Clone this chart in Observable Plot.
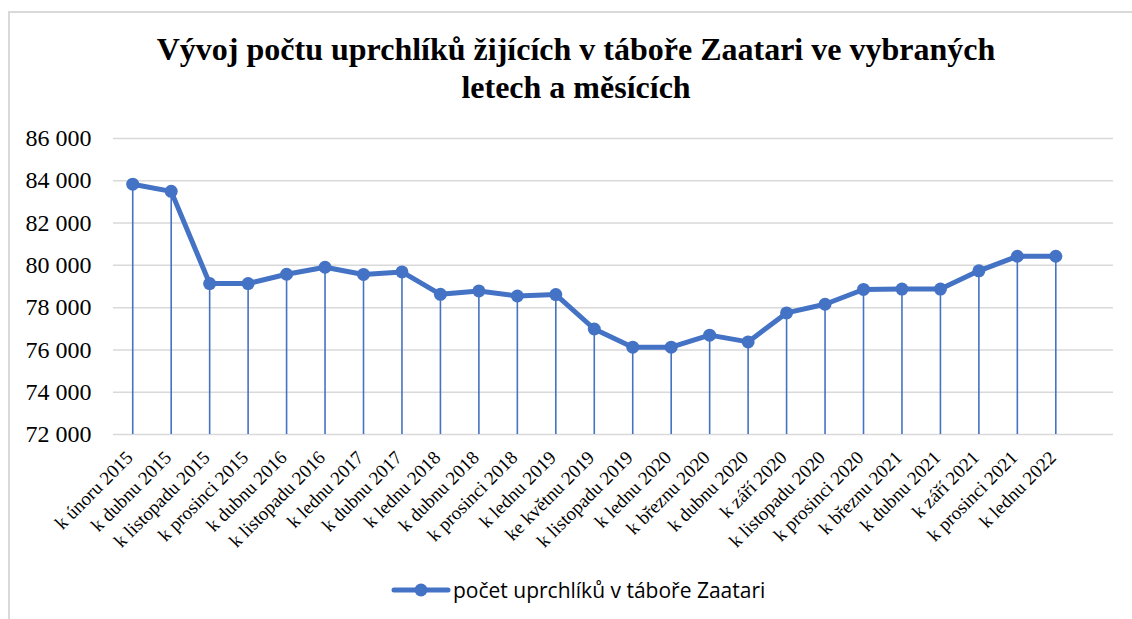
<!DOCTYPE html>
<html>
<head>
<meta charset="utf-8">
<script src="https://cdn.jsdelivr.net/npm/d3@7"></script>
<script src="https://cdn.jsdelivr.net/npm/@observablehq/plot@0.6"></script>
<style>
  html, body { margin: 0; padding: 0; background: #fff; }
  #wrap { position: relative; width: 1132px; height: 619px; overflow: hidden; background: #fff; }
  #frame { position: absolute; left: 8px; top: 11px; width: 1200px; height: 700px; border-left: 2px solid #d9d9d9; border-top: 2px solid #d9d9d9; box-sizing: border-box; }
  #title { position: absolute; left: 0; width: 1152px; top: 30px; text-align: center; font-family: "Liberation Serif", "Times New Roman", serif; font-weight: bold; font-size: 32px; line-height: 38px; color: #000; }
  #chart { position: absolute; left: 0; top: 0; }
  #legend { position: absolute; left: 391px; top: 576px; display: flex; align-items: center; font-family: "Open Sans", "Noto Sans", sans-serif; font-size: 21px; color: #000; white-space: nowrap; }
  #legend svg { margin-right: 2px; }
  #chart svg text { font-family: "Liberation Serif", "Times New Roman", serif; }
</style>
</head>
<body>
<div id="wrap">
  <div id="frame"></div>
  <div id="title">Vývoj počtu uprchlíků žijících v táboře Zaatari ve vybraných<br>letech a měsících</div>
  <div id="chart"></div>
  <div id="legend"></div>
</div>
<script>
const categories = ["k únoru 2015","k dubnu 2015","k listopadu 2015","k prosinci 2015","k dubnu 2016","k listopadu 2016","k lednu 2017","k dubnu 2017","k lednu 2018","k dubnu 2018","k prosinci 2018","k lednu 2019","ke květnu 2019","k listopadu 2019","k lednu 2020","k březnu 2020","k dubnu 2020","k září 2020","k listopadu 2020","k prosinci 2020","k březnu 2021","k dubnu 2021","k září 2021","k prosinci 2021","k lednu 2022"];
const values = [83840, 83500, 79140, 79140, 79580, 79910, 79570, 79690, 78630, 78790, 78550, 78620, 76990, 76130, 76130, 76700, 76380, 77750, 78160, 78860, 78880, 78880, 79740, 80430, 80430];
const yTicks = [72000, 74000, 76000, 78000, 80000, 82000, 84000, 86000];
const seriesName = "počet uprchlíků v táboře Zaatari";

const blue = "#4472C4";
const serif = "'Liberation Serif', 'Times New Roman', serif";
const data = categories.map((c, i) => ({i, label: c, value: values[i]}));
const fmt = v => d3.format(",")(v).replace(/,/g, " ");

const chart = Plot.plot({
  width: 1132,
  height: 560,
  marginTop: 138,
  marginBottom: 126,
  marginLeft: 113,
  marginRight: 19,
  style: {background: "transparent", overflow: "visible", fontFamily: serif},
  x: {domain: [-0.5, categories.length + 0.5], axis: null},
  y: {domain: [72000, 86000], axis: null},
  marks: [
    Plot.gridY(yTicks, {stroke: "#d9d9d9", strokeOpacity: 1, strokeWidth: 1.5}),
    Plot.axisY(yTicks, {tickSize: 0, tickPadding: 22, tickFormat: fmt, fontSize: 24, fontFamily: serif, fill: "#000", label: null}),
    Plot.axisX(d3.range(categories.length), {tickSize: 0, tickPadding: 6, dx: -3, dy: 14, tickRotate: -45, tickFormat: i => categories[i], fontSize: 19, fontFamily: serif, fill: "#000", label: null}),
    Plot.ruleX(data, {x: "i", y1: 72000, y2: "value", stroke: blue, strokeWidth: 1.6}),
    Plot.line(data, {x: "i", y: "value", stroke: blue, strokeWidth: 5, strokeLinejoin: "round", strokeLinecap: "round"}),
    Plot.dot(data, {x: "i", y: "value", r: 6.5, fill: blue, stroke: "none"})
  ]
});
document.getElementById("chart").appendChild(chart);

const legend = document.getElementById("legend");
legend.innerHTML = `<svg width="60" height="20"><line x1="3" y1="10" x2="57" y2="10" stroke="${blue}" stroke-width="5" stroke-linecap="round"/><circle cx="30" cy="10" r="6.5" fill="${blue}"/></svg><span>${seriesName}</span>`;
</script>
</body>
</html>
